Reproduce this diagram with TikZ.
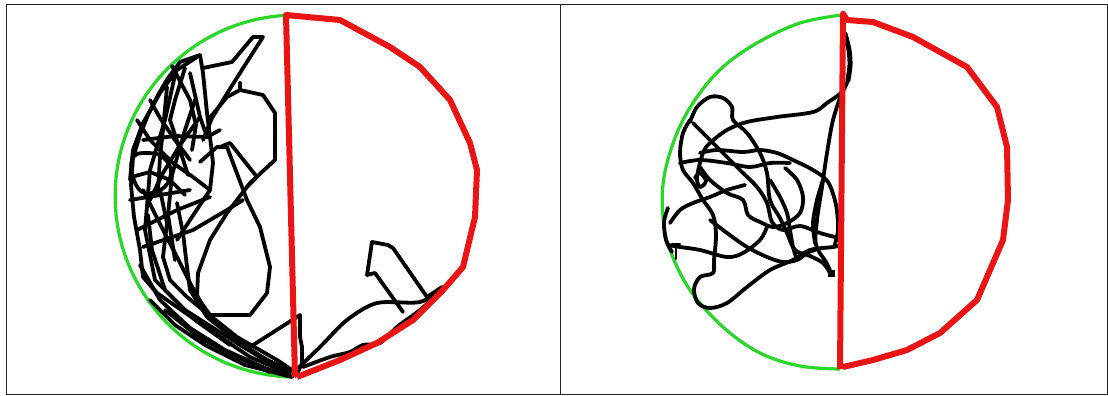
\documentclass[tikz,border=0pt]{standalone}
\begin{document}
\begin{tikzpicture}[x=1pt,y=-1pt,
  frame/.style={draw=black!85,line width=0.9pt},
  greenarc/.style={line width=3.2pt,line join=round},
  redwall/.style={line width=6pt,line join=round},
  traj/.style={draw=black,line width=3.8pt,line join=round,line cap=round},
  trajs/.style={traj,smooth,tension=0.55}]
\useasboundingbox (0,0) rectangle (1108,396);
\fill[white] (0,0) rectangle (1108,396);
% table frame
\draw[frame] (6,4.5) rectangle (1107,394.5);
\draw[frame] (560,4.5) -- (560,394.5);
\definecolor{gr}{RGB}{40,215,40}
\definecolor{rd}{RGB}{235,20,20}
% ---------- left panel ----------
\draw[greenarc,draw=gr] (293,377) arc[start angle=91,end angle=266,radius=181];
% trajectories left
\draw[traj] (203,68) -- (232,62) -- (253,37) -- (263,37) -- (245,65) -- (228,92) -- (212,118) -- (203,140);
\draw[traj] (208,120) -- (227,97) -- (240,90) -- (263,95) -- (275,113) -- (275,160) -- (250,183) -- (227,213) -- (210,240) -- (198,273) -- (197,297) -- (210,315) -- (250,315) -- (267,293) -- (270,267) -- (260,227) -- (247,200) -- (227,147) -- (217,147) -- (200,162);
\draw[traj] (240,90) -- (240,83);
\draw[traj] (220,147) -- (230,143) -- (257,177) -- (247,187);
\draw[traj] (442,287) -- (427,297) -- (393,248) -- (388,245) -- (372,242) -- (367,275) -- (375,273) -- (403,312);
\draw[traj] plot[smooth,tension=0.5] coordinates {(293,373) (320,347) (347,320) (377,303) (420,302) (442,288)};
\draw[traj] plot[smooth,tension=0.5] coordinates {(303,367) (330,357) (350,352) (363,345) (380,343) (397,327) (420,310) (440,292)};
\draw[traj,line width=5.5pt] (430,297) -- (444,288);
\draw[traj] (250,347) -- (297,317) -- (300,315) -- (300,337) -- (302,347) -- (302,363) -- (296,376);
% upper tangle
\draw[traj] (200,55) -- (180,62) -- (168,78) -- (158,95) -- (148,115) -- (140,135) -- (133,158) -- (131,185) -- (134,217) -- (140,250) -- (143,277) -- (157,293) -- (177,307) -- (210,330) -- (250,357) -- (290,374);
\draw[traj] (197,57) -- (177,70) -- (160,93) -- (143,123) -- (133,150) -- (130,180);
\draw[traj] (200,55) -- (203,73) -- (207,113) -- (210,137) -- (213,163) -- (210,190) -- (190,220) -- (177,240);
\draw[traj] (190,73) -- (200,117) -- (207,137);
\draw[traj] (143,140) -- (175,136) -- (207,137) -- (220,130);
\draw[traj] (167,87) -- (163,130) -- (160,157) -- (158,190);
\draw[traj] (137,120) -- (150,140) -- (173,163) -- (193,177) -- (210,190);
\draw[traj] (200,117) -- (180,145) -- (163,173) -- (150,200);
\draw[traj] (185,68) -- (175,100) -- (170,120) -- (180,150) -- (188,175);
\draw[traj] (150,100) -- (160,118) -- (175,140) -- (190,160);
\draw[traj] (172,66) -- (190,100) -- (196,125) -- (192,150);
\draw[traj] plot[smooth cycle,tension=0.8] coordinates {(132,160) (148,153) (166,160) (170,178) (156,192) (138,188)};
\draw[traj] (135,176) -- (150,172) -- (170,180) -- (185,195);
% lower tangle
\draw[traj] (143,190) -- (163,230) -- (177,257) -- (190,283) -- (207,313) -- (227,333) -- (260,357) -- (297,373);
\draw[traj] (160,190) -- (167,223) -- (163,257) -- (170,280) -- (187,297) -- (203,310) -- (237,337) -- (277,360) -- (295,372);
\draw[traj] (177,203) -- (183,233) -- (187,267) -- (190,290) -- (207,317) -- (240,343) -- (280,368);
\draw[traj] (130,200) -- (160,195) -- (190,190);
\draw[traj] (137,230) -- (177,210) -- (210,197);
\draw[traj] (143,247) -- (193,230) -- (227,210) -- (243,200);
\draw[traj] (175,75) -- (165,120) -- (150,170) -- (145,230) -- (155,280) -- (185,310) -- (240,345) -- (285,372);
\draw[traj] (150,300) -- (175,325) -- (205,345) -- (245,365) -- (292,377);
\draw[traj] (148,215) -- (152,250) -- (165,290) -- (195,320) -- (230,345);
\draw[traj] (195,100) -- (185,130) -- (172,175) -- (168,215) -- (175,260);
\draw[traj] (140,265) -- (160,300) -- (190,328) -- (225,350) -- (265,368) -- (288,376);
\draw[traj] (165,310) -- (200,338) -- (235,356) -- (270,372);
% red wall left
\draw[redwall,draw=rd] (295,377) -- (286,15) -- (340,20) -- (390,47) -- (420,67) -- (450,100) -- (470,143) -- (477,170) -- (475,217) -- (463,267) -- (443,290) -- (413,320) -- (377,343) -- (340,360) -- (297,377);
% ---------- right panel ----------
\draw[greenarc,draw=gr] plot[smooth,tension=0.6] coordinates {(842,15) (800,23) (757,43) (723,67) (697,97) (677,133) (664,177) (663,217) (670,250) (690,290) (723,327) (760,353) (800,366) (840,369)};
% trajectories right
\draw[traj,line width=5pt] plot[smooth] coordinates {(845,34) (849,50) (850,65) (848,80)};
\draw[trajs] plot coordinates {(848,80) (842,92) (827,103) (813,112) (777,117) (747,122) (727,130) (710,143) (703,153) (697,177) (700,187) (706,181) (700,173) (695,178)};
\draw[trajs] plot coordinates {(842,92) (833,120) (827,153) (822,187) (817,220) (816,245) (826,262) (831,273)};
\fill (828,270) rectangle (835,277);
\draw[trajs] plot coordinates {(690,122) (697,107) (710,97) (723,98) (732,107) (733,120) (747,133) (760,153) (767,173) (770,200) (780,218) (787,233) (795,250) (810,256) (823,263) (830,273)};
\draw[trajs] plot coordinates {(690,120) (683,133) (680,153) (683,170) (693,183) (703,200) (713,215) (716,235) (714,260) (713,273) (700,277) (694,289) (698,303) (710,308) (727,303) (747,287) (770,270) (793,260) (810,250) (833,247) (842,245)};
\draw[trajs] plot coordinates {(693,123) (707,137) (723,153) (740,170) (757,187) (767,203) (772,222) (783,230) (800,226) (820,233) (835,237)};
\draw[trajs] plot coordinates {(700,153) (717,150) (743,152) (760,150) (777,153) (793,160) (813,170) (828,182) (836,205) (838,230) (834,247)};
\draw[trajs] plot coordinates {(680,163) (700,160) (727,163) (750,167) (770,163) (790,163)};
\draw[trajs] plot coordinates {(700,167) (710,180) (727,193) (743,200) (748,215) (760,222) (773,227) (787,223) (800,213) (803,197) (797,180) (785,168)};
\draw[trajs] plot coordinates {(670,223) (680,210) (693,203) (710,197) (727,190) (745,185)};
\draw[trajs] plot coordinates {(668,245) (680,247) (700,250) (727,257) (743,253) (760,240) (767,227)};
\draw[trajs] plot coordinates {(710,220) (727,233) (747,247) (767,257) (783,262) (797,260) (807,253) (815,250)};
\draw[trajs] plot coordinates {(770,180) (780,197) (787,213) (790,230) (793,247) (797,260)};
\draw[trajs] plot coordinates {(823,180) (817,200) (813,223) (815,243)};
\draw[trajs] plot coordinates {(668,208) (664,222) (666,240) (672,252)};
\draw[traj,line width=2pt] (672,244) -- (680,244) (676,244) -- (676,259);
% red wall right
\draw[redwall,draw=rd] (840,369) -- (843,14) -- (847,20) -- (873,22) -- (913,37) -- (967,67) -- (997,107) -- (1007,147) -- (1008,200) -- (1003,240) -- (977,300) -- (940,333) -- (907,350) -- (873,360) -- (843,367);
\end{tikzpicture}
\end{document}
